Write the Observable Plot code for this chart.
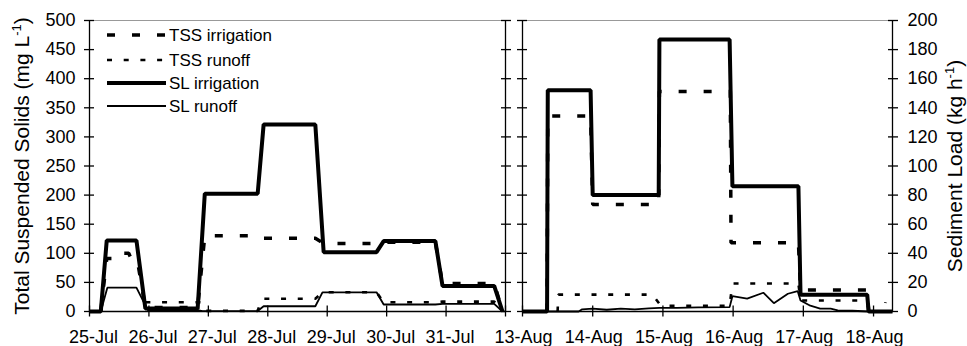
<!DOCTYPE html>
<html><head><meta charset="utf-8">
<script src="https://cdn.jsdelivr.net/npm/d3@7"></script>
<script src="https://cdn.jsdelivr.net/npm/@observablehq/plot@0.6"></script>
<style>
html,body{margin:0;padding:0;background:#fff;}
#chart{position:relative;width:967px;height:346px;font-family:"Liberation Sans",Arial,sans-serif;}
#chart > svg{position:absolute;top:0;}
</style></head><body><div id="chart"></div>
<script>
// tick labels
const julLabels = ["25-Jul","26-Jul","27-Jul","28-Jul","29-Jul","30-Jul","31-Jul"];
const augLabels = ["13-Aug","14-Aug","15-Aug","16-Aug","17-Aug","18-Aug"];
const tssTicks = [0,50,100,150,200,250,300,350,400,450,500];
const slTicks = [0,20,40,60,80,100,120,140,160,180,200];
const legendLabels = ["TSS irrigation","TSS runoff","SL irrigation","SL runoff"];

// series: [days since first date of panel, value]; TSS in mg/L, SL in kg/h
const julTssIrrigation = [[0.19,0],[0.29,91],[0.45,91],[0.47,100],[0.66,100],[0.70,91],[0.80,91],[0.94,7],[1.82,7],[1.94,130],[2.83,130],[2.88,126],[3.80,126],[3.94,117],[4.83,117],[4.95,119],[5.82,119],[5.94,48],[6.81,48],[6.95,0]];
const julTssRunoff = [[0.94,16],[1.88,16],[1.94,1],[2.83,1],[2.90,22],[3.80,22],[3.92,33],[4.83,33],[4.95,16],[5.82,16],[5.94,17],[6.81,17],[6.95,0]];
const julSlIrrigation = [[0,0],[0.19,0],[0.29,48.8],[0.79,48.8],[0.94,2],[1.82,2],[1.94,81],[2.83,81],[2.93,128.5],[3.80,128.5],[3.94,40.8],[4.83,40.8],[4.95,48.4],[5.82,48.4],[5.94,17.6],[6.81,17.6],[6.95,0]];
const julSlRunoff = [[0,0],[0.19,0],[0.30,16.4],[0.79,16.4],[0.98,1],[1.82,1],[1.90,0.3],[2.83,0.3],[2.93,3.6],[3.80,3.6],[3.92,13.2],[4.83,13.2],[4.95,4.8],[5.82,4.8],[5.94,5.3],[6.81,5.3],[6.95,0]];

const augTssIrrigation = [[0.35,0],[0.36,336],[0.97,336],[1.0,184],[1.94,184],[1.95,378],[2.96,378],[2.97,118],[3.93,118],[3.96,37],[4.91,37],[4.93,0]];
const augTssRunoff = [[0.50,0],[0.51,29],[1.85,29],[1.97,10],[2.95,10],[2.99,48],[3.93,48],[3.96,19],[4.91,19],[4.93,0],[5.15,0],[5.17,16]];
const augSlIrrigation = [[0,0],[0.35,0],[0.36,152],[0.97,152],[1.0,80],[1.94,80],[1.95,187],[2.95,187],[2.99,86],[3.93,86],[3.96,11.5],[4.91,11.5],[4.93,0],[5.27,0]];
const augSlRunoff = [[0,0],[0.80,0],[0.85,1.5],[1.0,2],[1.2,1.2],[1.4,2],[1.6,1.5],[1.8,2.2],[1.95,2.5],[2.2,2.5],[2.5,2.8],[2.95,3],[2.99,10.5],[3.2,8.8],[3.43,12.9],[3.58,5.7],[3.78,12.2],[3.92,14],[3.96,7.6],[4.1,4],[4.24,2],[4.39,2],[4.49,0.7],[4.7,0.5],[4.93,0],[5.27,0]];

const FONT = '"Liberation Sans", Arial, sans-serif';
const slToTss = 2.5; // 200 kg/h on the right axis lines up with 500 mg/L on the left
const styles = [
  {strokeWidth: 3.5, strokeDasharray: "8,17"},
  {strokeWidth: 2.6, strokeDasharray: "5,11.7"},
  {strokeWidth: 4, strokeDasharray: null},
  {strokeWidth: 1.8, strokeDasharray: null}
];

function lineMarks(tssIrr, tssRun, slIrr, slRun) {
  const base = {x: d => d[0], stroke: "#000", strokeLinecap: "butt", strokeLinejoin: "miter"};
  return [
    Plot.line(slRun, {...base, y: d => d[1] * slToTss, ...styles[3]}),
    Plot.line(slIrr, {...base, y: d => d[1] * slToTss, ...styles[2]}),
    Plot.line(tssRun, {...base, y: d => d[1], ...styles[1]}),
    Plot.line(tssIrr, {...base, y: d => d[1], ...styles[0]})
  ];
}

const axisStyle = {stroke: "#000", strokeWidth: 1.3};
const blank = () => "";

const left = Plot.plot({
  width: 510, height: 346,
  marginLeft: 89, marginRight: 5, marginTop: 20, marginBottom: 35,
  x: {domain: [0, 7], axis: null},
  y: {domain: [0, 500], axis: null},
  style: {fontFamily: FONT, fontSize: "18px", background: "transparent", overflow: "visible", color: "#000"},
  marks: [
    Plot.ruleY([500], {stroke: "#999", strokeWidth: 1}),
    ...lineMarks(julTssIrrigation, julTssRunoff, julSlIrrigation, julSlRunoff),
    Plot.ruleY([0], axisStyle),
    Plot.ruleX([0], axisStyle),
    Plot.ruleX([7], axisStyle),
    Plot.axisY(tssTicks, {anchor: "left", tickSize: 10, dx: 5, tickFormat: blank, label: null, ...axisStyle}),
    Plot.axisY(tssTicks, {anchor: "right", tickSize: 10, dx: -5, tickFormat: blank, label: null, ...axisStyle}),
    Plot.axisY(tssTicks, {anchor: "left", tickSize: 0, tickPadding: 14, fontSize: 18, fill: "#000", label: null}),
    Plot.axisX(d3.range(0, 8), {anchor: "bottom", tickSize: 11, dy: -5.5, tickFormat: blank, label: null, ...axisStyle}),
    Plot.axisX(d3.range(0, 7), {anchor: "bottom", tickSize: 0, tickPadding: 19, dx: 4, fontSize: 18, fill: "#000", label: null, tickFormat: d => julLabels[d]})
  ]
});
left.style.left = "0px";

const right = Plot.plot({
  width: 457, height: 346,
  marginLeft: 12, marginRight: 75, marginTop: 20, marginBottom: 35,
  x: {domain: [0, 5.27], axis: null},
  y: {domain: [0, 500], axis: null},
  style: {fontFamily: FONT, fontSize: "18px", background: "transparent", overflow: "visible", color: "#000"},
  marks: [
    Plot.ruleY([500], {stroke: "#999", strokeWidth: 1}),
    ...lineMarks(augTssIrrigation, augTssRunoff, augSlIrrigation, augSlRunoff),
    Plot.ruleY([0], axisStyle),
    Plot.ruleX([0], axisStyle),
    Plot.ruleX([5.27], axisStyle),
    Plot.axisY(tssTicks, {anchor: "left", tickSize: 10, dx: 5, tickFormat: blank, label: null, ...axisStyle}),
    Plot.axisY(slTicks.map(v => v * slToTss), {anchor: "right", tickSize: 10, dx: -5, tickFormat: blank, label: null, ...axisStyle}),
    Plot.axisY(slTicks.map(v => v * slToTss), {anchor: "right", tickSize: 0, tickPadding: 15, fontSize: 18, fill: "#000", label: null, tickFormat: d => String(Math.round(d / slToTss))}),
    Plot.axisX(d3.range(0, 6), {anchor: "bottom", tickSize: 11, dy: -5.5, tickFormat: blank, label: null, ...axisStyle}),
    Plot.axisX(d3.range(0, 6), {anchor: "bottom", tickSize: 0, tickPadding: 19, dx: 1, fontSize: 18, fill: "#000", label: null, tickFormat: d => augLabels[d]})
  ]
});
right.style.left = "510px";

const chart = document.getElementById("chart");
chart.appendChild(left);
chart.appendChild(right);

// overlay: axis titles and legend
const ov = d3.select(chart).append("svg")
  .attr("width", 967).attr("height", 346)
  .style("left", "0px").style("pointer-events", "none")
  .attr("font-family", FONT);

function title(x, y, main) {
  const t = ov.append("text")
    .attr("transform", `translate(${x},${y}) rotate(-90)`)
    .attr("text-anchor", "middle").attr("dy", "0.35em")
    .attr("font-size", 21).attr("fill", "#000");
  t.append("tspan").text(main);
  t.append("tspan").attr("font-size", 13).attr("dy", -8).text("-1");
  t.append("tspan").attr("dy", 8).text(")");
}
title(22, 166, "Total Suspended Solids (mg L");
title(955, 166, "Sediment Load (kg h");

const legendY = [35, 60, 83, 106];
legendLabels.forEach((lab, i) => {
  ov.append("line")
    .attr("x1", 107).attr("x2", 166).attr("y1", legendY[i]).attr("y2", legendY[i])
    .attr("stroke", "#000").attr("stroke-width", styles[i].strokeWidth)
    .attr("stroke-dasharray", styles[i].strokeDasharray);
  ov.append("text").attr("x", 169).attr("y", legendY[i]).attr("dy", "0.35em")
    .attr("font-size", 17).attr("fill", "#000").text(lab);
});
</script></body></html>
